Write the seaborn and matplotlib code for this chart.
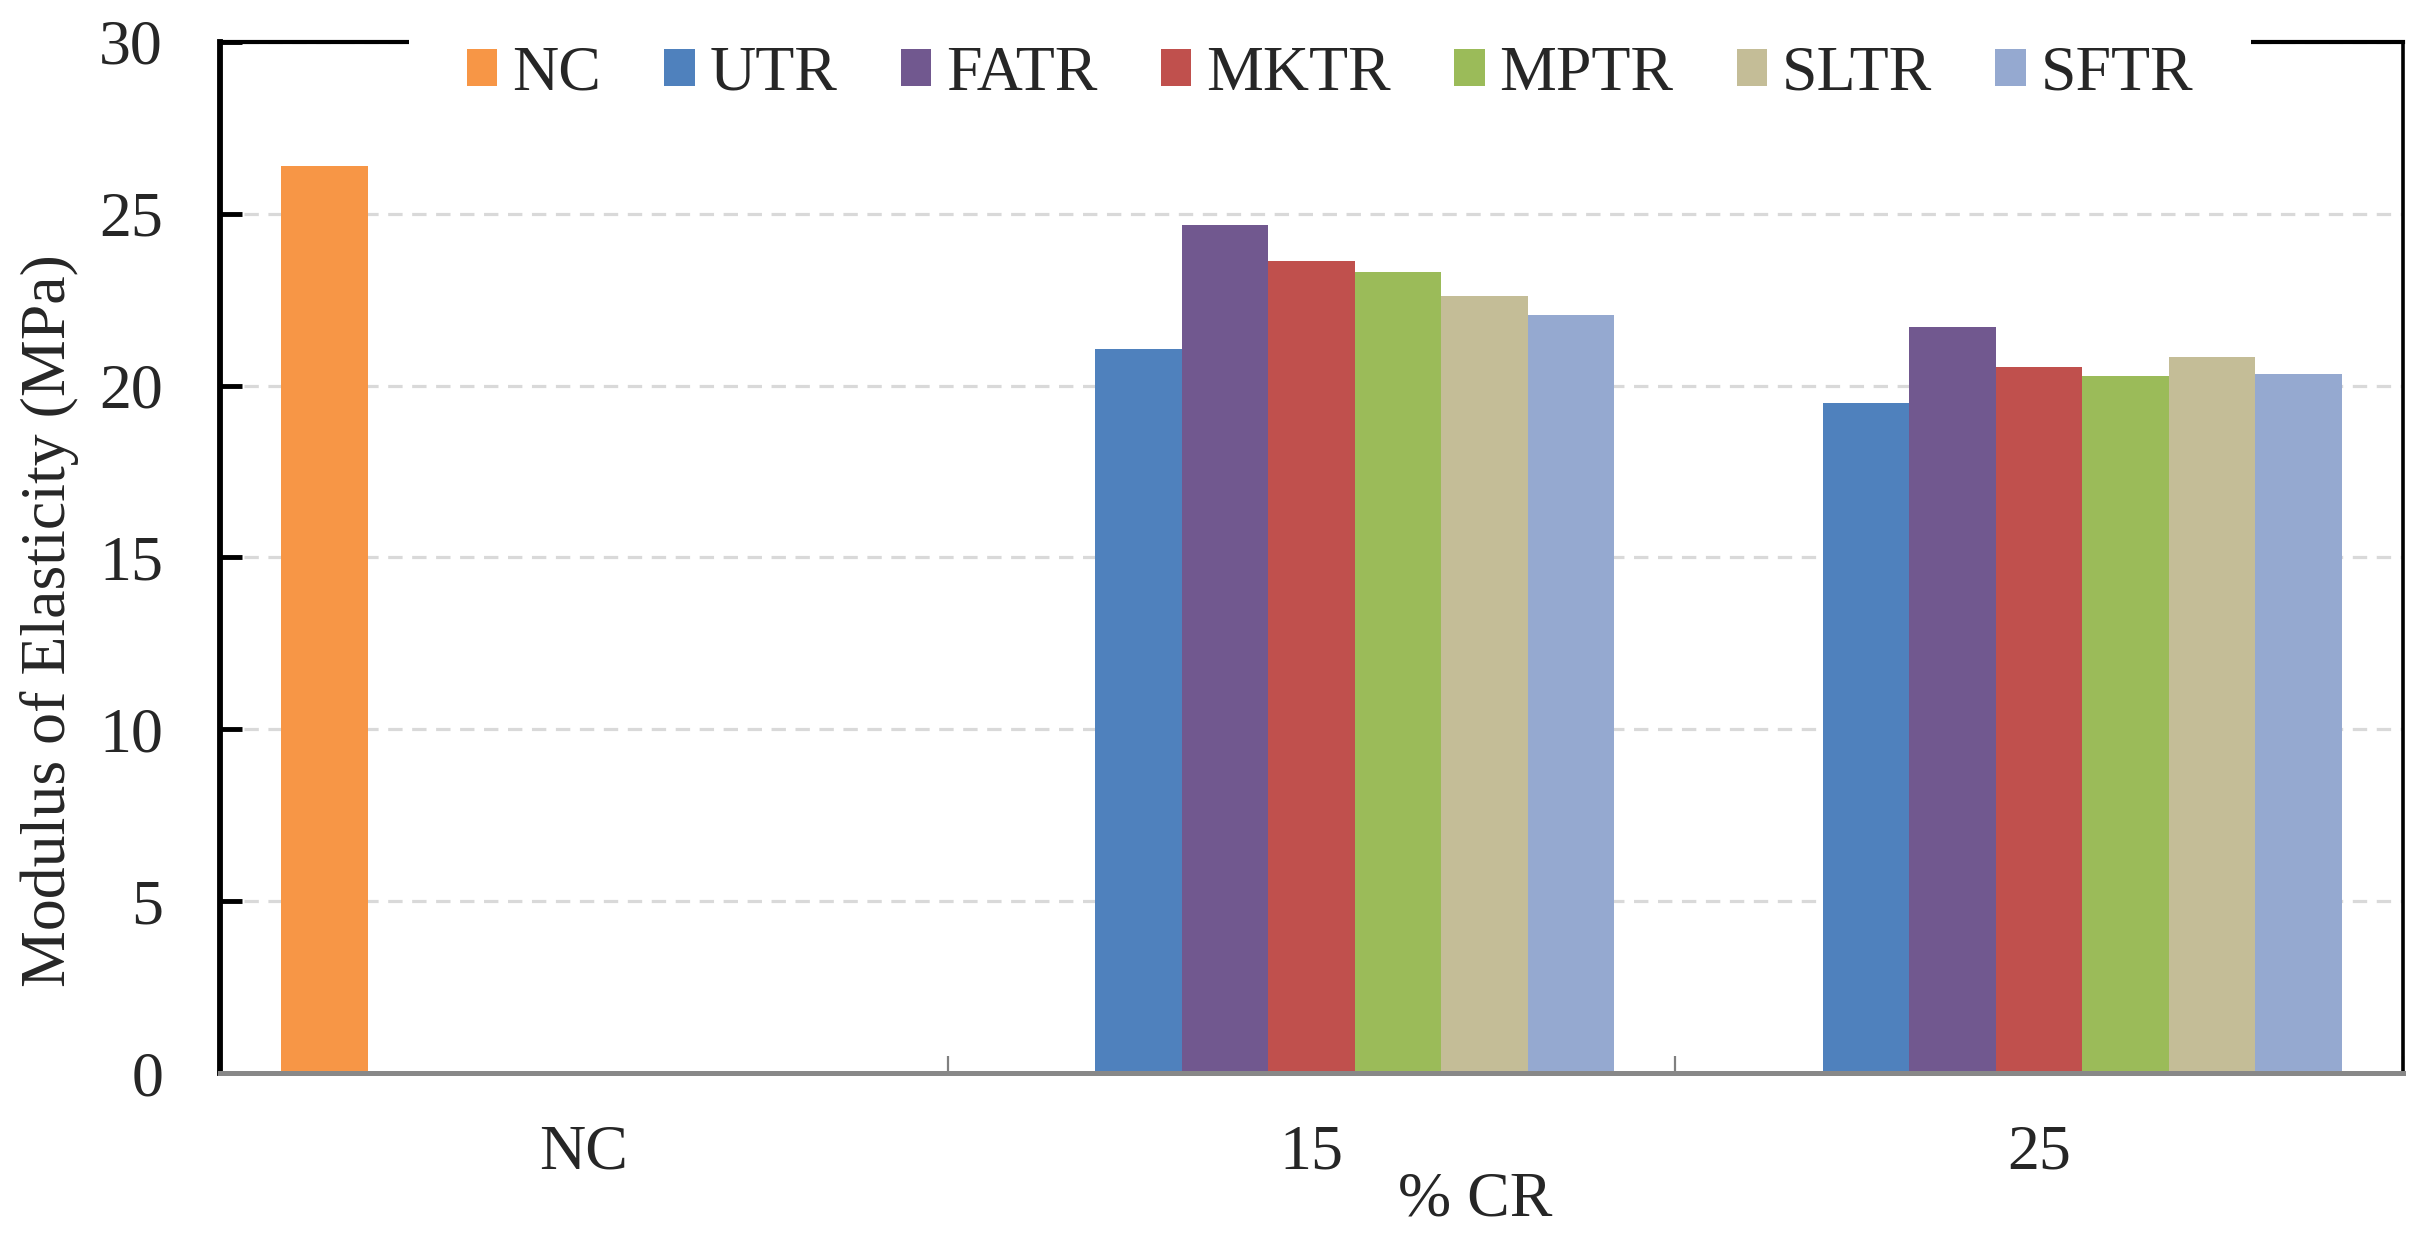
import matplotlib
matplotlib.use("Agg")
import matplotlib.pyplot as plt
import seaborn as sns
import pandas as pd
from matplotlib.patches import Patch
from matplotlib.ticker import FixedLocator

# ---- data ----
groups = ["NC", "15", "25"]
series = ["NC", "UTR", "FATR", "MKTR", "MPTR", "SLTR", "SFTR"]
nc_values = [26.4]
cr15_values = [21.06, 24.67, 23.62, 23.32, 22.60, 22.06]   # UTR..SFTR
cr25_values = [19.50, 21.70, 20.55, 20.28, 20.82, 20.35]   # UTR..SFTR
colors = ["#F79646", "#4F81BD", "#71588F", "#C0504D", "#9BBB59", "#C4BD97", "#95A9D0"]
y_ticks = [0, 5, 10, 15, 20, 25, 30]
y_label = "Modulus of Elasticity (MPa)"
x_label = "% CR"

rows = [("NC", "NC", nc_values[0])]
for s, v in zip(series[1:], cr15_values):
    rows.append(("15", s, v))
for s, v in zip(series[1:], cr25_values):
    rows.append(("25", s, v))
df = pd.DataFrame(rows, columns=["group", "series", "value"])
palette = dict(zip(series, colors))

sns.set_theme(style="white")
plt.rcParams["font.family"] = ["Liberation Serif", "DejaVu Serif"]

fig = plt.figure(figsize=(24.22, 12.38), dpi=100)
ax = fig.add_axes([220 / 2422, 1 - 1073 / 1238, (2403 - 220) / 2422, (1073 - 42) / 1238])

sns.barplot(data=df, x="group", y="value", hue="series", order=groups,
            hue_order=series, palette=palette, width=0.832, dodge=True,
            errorbar=None, saturation=1, edgecolor="none", linewidth=0,
            legend=False, ax=ax)

ax.set_xlim(-0.5, 2.5)
ax.set_ylim(0, 30)
ax.set_yticks(y_ticks)
ax.set_yticklabels([str(t) for t in y_ticks])

# grid
ax.set_axisbelow(True)
ax.yaxis.grid(True, color="#D9D9D9", linestyle=(0, (4.5, 3)), linewidth=2.3)
ax.xaxis.grid(False)

# spines
for side in ["left", "right", "top", "bottom"]:
    ax.spines[side].set_visible(True)
ax.spines["left"].set_color("black")
ax.spines["left"].set_linewidth(4.2)
ax.spines["top"].set_color("black")
ax.spines["top"].set_linewidth(3.0)
ax.spines["right"].set_color("black")
ax.spines["right"].set_linewidth(2.6)
ax.spines["bottom"].set_color("#888888")
ax.spines["bottom"].set_linewidth(3.6)

# ticks
ax.tick_params(axis="y", which="major", direction="in", length=16, width=3.5,
               color="black", labelsize=46, pad=41, left=True)
ax.tick_params(axis="x", which="major", length=0, labelsize=46, pad=37, bottom=True)
ax.xaxis.set_minor_locator(FixedLocator([-0.5, 0.5, 1.5, 2.5]))
ax.tick_params(axis="x", which="minor", direction="in", length=12, width=1.6,
               color="#808080", bottom=True)

ax.set_xlabel(x_label, fontsize=46)
ax.set_ylabel(y_label, fontsize=46)
ax.xaxis.set_label_coords(0.575, -0.096)
ax.yaxis.set_label_coords(-0.0646, 0.439)

handles = [Patch(facecolor=palette[s], edgecolor="none") for s in series]
leg = ax.legend(handles, series, loc="center", bbox_to_anchor=(0.5085, 0.968),
                ncol=len(series), fontsize=46, frameon=True, framealpha=1,
                facecolor="white", edgecolor="none", handlelength=0.48,
                handleheight=0.5, handletextpad=0.23, columnspacing=0.99,
                borderpad=0.9, borderaxespad=0)
leg.set_zorder(10)

fig.savefig("out.png", dpi=100)
